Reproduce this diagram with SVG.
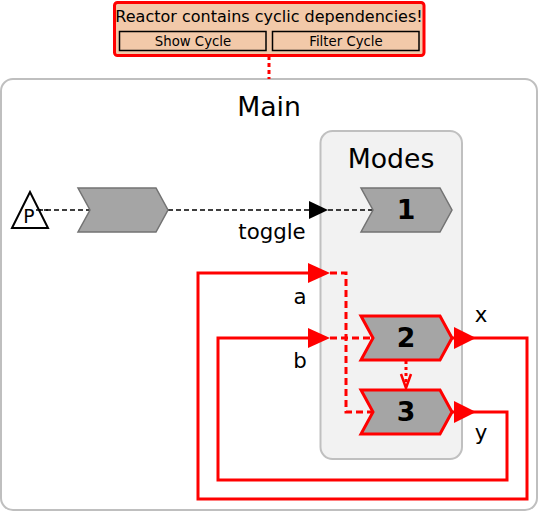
<svg xmlns="http://www.w3.org/2000/svg" width="539" height="512" viewBox="0 0 539 512">
<style>
text{font-family:"DejaVu Sans","Liberation Sans",sans-serif;fill:#000}
.title{font-size:26.7px;text-anchor:middle}
.lbl{font-size:21.3px;text-anchor:middle}
.num{font-size:26.7px;font-weight:bold;text-anchor:middle}
.rx{fill:#a5a5a5;stroke:#737373;stroke-width:1.5}
.rxr{fill:#a5a5a5;stroke:#ff0000;stroke-width:3}
.red{fill:none;stroke:#ff0000;stroke-width:3}
.redd{fill:none;stroke:#ff0000;stroke-width:3;stroke-dasharray:7,4}
.blk{fill:none;stroke:#000;stroke-width:1.5;stroke-dasharray:5,3}
.ahr{fill:#ff0000}
</style>
<rect x="1" y="79" width="536" height="431" rx="12" fill="#fff" stroke="#bfbfbf" stroke-width="2"/>
<text class="title" x="269" y="116">Main</text>
<g id="modes">
<rect x="320.5" y="131" width="141.5" height="328" rx="12" fill="#f2f2f2" stroke="#c0c0c0" stroke-width="2"/>
<text class="title" x="391" y="168">Modes</text>
</g>
<g id="alert">
<rect x="114.5" y="2.5" width="309.5" height="53" rx="3" fill="#f2c9a9" stroke="#ff0000" stroke-width="3"/>
<text x="269" y="21.5" font-size="16" text-anchor="middle">Reactor contains cyclic dependencies!</text>
<rect x="119.5" y="31.5" width="146.5" height="19" fill="#f2c9a9" stroke="#000" stroke-width="1.5"/>
<text x="193" y="46" font-size="13.3" text-anchor="middle">Show Cycle</text>
<rect x="272.5" y="31.5" width="146.5" height="19" fill="#f2c9a9" stroke="#000" stroke-width="1.5"/>
<text x="346" y="46" font-size="13.3" text-anchor="middle">Filter Cycle</text>
</g>
<g id="connectors">
<line x1="269" y1="56" x2="269" y2="79" stroke="#ff0000" stroke-width="3" stroke-dasharray="4,3"/>
<line class="blk" x1="30" y1="210" x2="90" y2="210"/>
<line class="blk" x1="168" y1="210" x2="373" y2="210"/>
<polygon points="309,201 328,210 309,219" fill="#000"/>
<polyline class="red" points="452,338 527,338 527,499 198,499 198,273 310,273"/>
<polygon class="ahr" points="308,263 330,273 308,283"/>
<polyline class="redd" points="330,273 346,273 346,412 373,412"/>
<polyline class="red" points="452,412 507,412 507,480 218,480 218,338 310,338"/>
<polygon class="ahr" points="308,328 330,338 308,348"/>
<line class="redd" x1="330" y1="338" x2="373" y2="338"/>
<polygon class="ahr" points="454,327 476,338 454,349"/>
<polygon class="ahr" points="454,401 476,412 454,423"/>
<line x1="406" y1="361" x2="406" y2="384" stroke="#ff0000" stroke-width="3" stroke-dasharray="3,3"/>
<polyline points="401,374 406,388 411,374" fill="none" stroke="#ff0000" stroke-width="2.5"/>
<text class="lbl" x="272" y="239">toggle</text>
<text class="lbl" x="300" y="304">a</text>
<text class="lbl" x="300" y="368">b</text>
<text class="lbl" x="481" y="322">x</text>
<text class="lbl" x="481" y="440">y</text>
</g>
<g id="P">
<polygon points="12,228 30,192 48,228" fill="#fff" stroke="#000" stroke-width="2"/>
<line class="blk" x1="36" y1="210" x2="48" y2="210"/>
<text x="29" y="223" font-size="18.7" text-anchor="middle">P</text>
</g>
<g id="reactor">
<polygon class="rx" points="78,188 156,188 168,210 156,232 78,232 90,210"/>
</g>
<g id="mode1">
<polygon class="rx" points="361,188 440,188 452,210 440,232 361,232 373,210"/>
<text class="num" x="406" y="219">1</text>
</g>
<g id="mode2">
<polygon class="rxr" points="361,316 440,316 452,338 440,360 361,360 373,338"/>
<text class="num" x="406" y="347">2</text>
</g>
<g id="mode3">
<polygon class="rxr" points="361,390 440,390 452,412 440,434 361,434 373,412"/>
<text class="num" x="406" y="421">3</text>
</g>
</svg>
